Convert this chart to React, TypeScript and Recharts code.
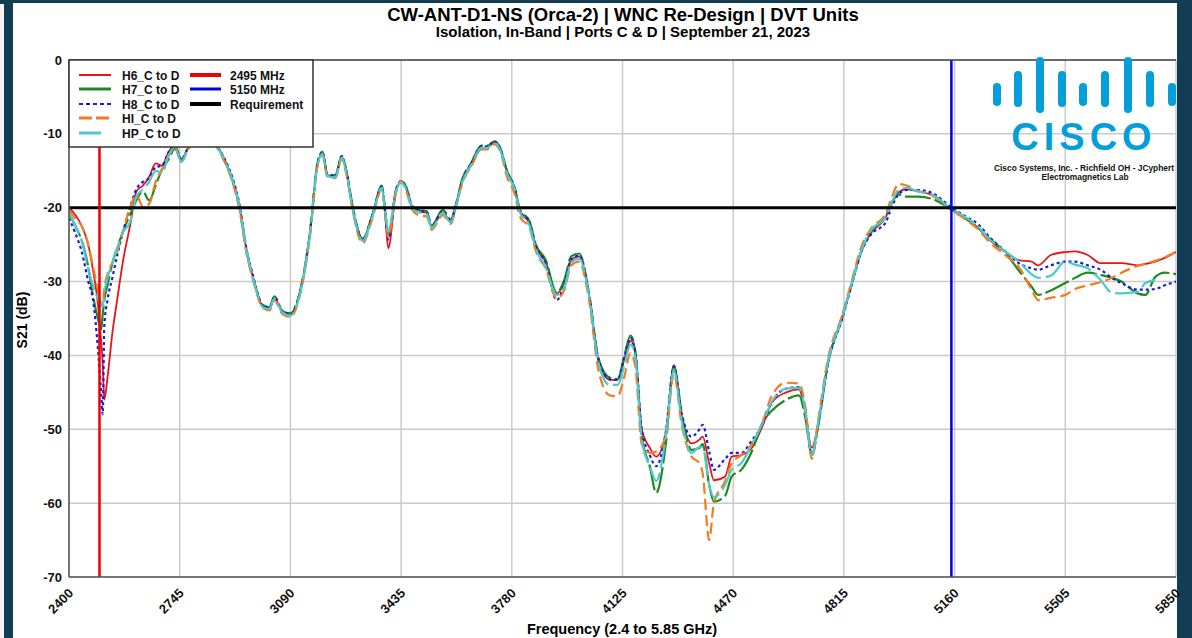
import React from 'react';
import { LineChart, Line, XAxis, YAxis, CartesianGrid, ReferenceLine } from 'recharts';

const FONT = '"Liberation Sans", Arial, Helvetica, sans-serif';

const freqs = [
  2400, 2420, 2440, 2460, 2475, 2490, 2500, 2505, 2510, 2520, 2535, 2550, 2570, 2590, 2610, 2630, 2650, 2670, 2690,
  2710, 2730, 2750, 2770,
  2820, 2870, 2885, 2910, 2930, 2955, 2970,
  3005, 3025, 3040, 3065, 3090, 3120, 3150,
  3175, 3190, 3205, 3230, 3250, 3265, 3285, 3315, 3345, 3375, 3385, 3395,
  3420, 3435, 3450, 3470, 3490, 3515, 3530, 3565, 3590, 3605, 3625, 3655,
  3685, 3705, 3725, 3745, 3765, 3790, 3805,
  3835, 3855, 3885, 3920, 3945, 3965, 3990, 4020,
  4050, 4085, 4110, 4130, 4150, 4165, 4185, 4210, 4230, 4260, 4285, 4310, 4340, 4365,
  4375, 4395, 4410, 4445, 4465, 4495, 4530, 4560, 4590,
  4635, 4675, 4695, 4715, 4735, 4765, 4810, 4840, 4870,
  4900, 4945, 4965, 4985, 5010, 5045, 5090, 5145, 5195, 5235, 5265,
  5320, 5360, 5400, 5420, 5460, 5505, 5535, 5575, 5615, 5650, 5680, 5730, 5755, 5785, 5815, 5850,
];

const h6 = [
  -20, -21, -22.5, -25, -28.5, -33, -38, -41, -46, -43, -37, -32.5, -26.8, -22.5, -17.8, -17, -15.8, -14, -14.3,
  -12.5, -11.5, -13.5, -12,
  -10, -12.2, -13.5, -16.2, -19.5, -26.1, -28.8,
  -33.4, -33.6, -32.2, -34.1, -34.5, -31.5, -23.9,
  -14, -12.6, -15.6, -15.8, -13.1, -15.3, -20.3, -24.4, -21.2, -17.2, -20.8, -25.5,
  -17.6, -16.5, -17.3, -20, -20.5, -20.7, -22.6, -20.6, -21.9, -19.9, -16.5, -14.2,
  -12, -11.9, -11.1, -12.2, -15.2, -17.6, -20.5,
  -22.1, -25.3, -27.3, -31.6, -30, -27.1, -26.6, -31.6,
  -40.6, -43.3, -43.3, -40.6, -38, -39.7, -50, -52.5, -53.7, -50.5, -41.3, -48.3, -51.9, -51.4,
  -51, -54.6, -56.9, -56.4, -53.7, -53.5, -52.4, -49.7, -46.4,
  -45, -44.6, -47.8, -52.5, -49.2, -41, -34.8, -30.2, -25.7,
  -23.4, -21.3, -19.4, -17.9, -17.5, -17.8, -18.3, -20, -21.5, -22.8, -24.2,
  -26, -27.1, -27.3, -27.8, -26.4, -26, -25.9, -26.4, -27.5, -27.5, -27.5, -27.8, -27.6, -27.3, -26.8, -26,
];

const h7 = [
  -20.7, -22.5, -24.5, -28, -32, -35, -36.5, -34.5, -32.5, -30.5, -27.5, -25.5, -23, -21, -19, -17.8, -19, -17, -14.8,
  -13.5, -12, -13.5, -12,
  -10, -12.3, -13.6, -16.4, -19.7, -26.3, -29,
  -33.2, -33.5, -32, -34, -34.3, -31.3, -23.7,
  -13.8, -12.4, -15.4, -15.6, -13, -15.1, -20, -24.2, -21, -17, -20.3, -23.5,
  -17.4, -16.4, -17.1, -19.8, -20.3, -20.5, -22.4, -20.3, -21.6, -19.7, -16.2, -13.8,
  -11.6, -11.6, -11, -12, -15, -17.4, -20.2,
  -21.8, -25, -27, -31.5, -29.6, -26.6, -26.2, -31.4,
  -40.4, -43, -43.2, -40.2, -37.3, -39.5, -51, -55, -58.6, -52, -41.4, -48, -52.8, -52.5,
  -52, -57.5, -59.8, -59, -56.4, -55.5, -52.8, -49.2, -47.5,
  -46, -45.4, -48.5, -53.5, -49.5, -41.2, -34.8, -30.2, -25.8,
  -23.2, -21.2, -19.2, -18.2, -18.5, -18.5, -18.8, -20.1, -21.5, -22.8, -24,
  -26.2, -28.5, -30.7, -31.8, -31.2, -30.2, -29.5, -28.8, -29.1, -29.5, -30, -31.6, -31.8, -29.4, -28.8, -29,
];

const h8 = [
  -21.4, -23.5, -26, -30, -32.5, -39, -45, -48, -36, -32.5, -29.5, -26.5, -23, -20, -17.5, -16.5, -16, -14.5, -14.3,
  -12.5, -11.5, -13.5, -12,
  -10, -12.2, -13.4, -16, -19.3, -26, -28.6,
  -33.3, -33.5, -32.1, -34, -34.4, -31.4, -23.8,
  -13.9, -12.5, -15.5, -15.7, -13, -15.2, -20.2, -24.3, -21.1, -17.1, -20.5, -24.3,
  -17.5, -16.4, -17.2, -19.9, -20.4, -20.6, -22.5, -20.5, -21.8, -19.8, -16.4, -13.9,
  -11.7, -11.7, -11, -12.1, -15.1, -17.5, -20.4,
  -22, -25.2, -27.4, -32.5, -30.1, -27, -26.5, -31.5,
  -40.5, -43.2, -43.3, -40.4, -37.6, -39.6, -50, -53.5, -55, -50.3, -41.5, -48, -51, -50,
  -49.4, -53, -55.5, -54, -53.2, -53.2, -51.4, -49.5, -46.4,
  -44.5, -44.3, -47.5, -53.5, -49.3, -41.2, -35, -30.4, -25.9,
  -23.6, -22, -19.8, -18.2, -17.6, -17.6, -18, -19.8, -21.2, -22.3, -23.8,
  -26, -27.5, -28.2, -28.4, -27.8, -27.3, -27.3, -27.8, -28.4, -29.5, -30.2, -31.1, -31.1, -31, -30.5, -30,
];

const hi = [
  -20.3, -21.5, -22.5, -25, -28, -31, -33, -33.4, -31, -29, -27.5, -26, -23, -20, -18.3, -19.8, -19.5, -16.5, -14.8,
  -13, -11.8, -13.8, -12.2,
  -10.2, -12.5, -13.8, -16.6, -20, -26.6, -29.2,
  -33.6, -33.9, -32.5, -34.4, -34.8, -31.8, -24.2,
  -14.3, -12.8, -15.8, -16, -13.4, -15.6, -20.6, -24.8, -21.5, -17.5, -20.6, -24,
  -17.8, -16.4, -17.6, -20.3, -21, -21.2, -23, -21, -22.2, -20.1, -16.8, -14.3,
  -12.1, -12.1, -11.4, -12.5, -15.8, -18.3, -21.2,
  -22.7, -25.9, -28.2, -32.3, -31, -27.8, -27.3, -32.3,
  -42, -45.4, -45.5, -43, -39.7, -41.5, -52, -53.2, -53, -51, -42.5, -49.5, -53.7, -54.6,
  -56, -65, -60, -57, -54.6, -53.5, -51.9, -49.2, -45.5,
  -43.7, -43.8, -47, -54, -48.7, -40.5, -34.5, -29.8, -25.2,
  -22.8, -20.8, -18.5, -16.8, -17, -17.7, -18.3, -20.2, -21.6, -23, -24.5,
  -26.5, -28, -31.1, -32.5, -32.2, -31.8, -31, -30.5, -30.1, -29.5, -28.8, -27.9, -27.6, -27.2, -26.7, -26,
];

const hp = [
  -20.6, -22.5, -24.5, -28.3, -30.6, -32.3, -33.2, -33.4, -31.5, -29.5, -27.5, -25.5, -23.2, -22, -18.5, -17.5, -16.5, -15, -15.3,
  -13, -11.8, -13.8, -12.2,
  -10.1, -12.3, -13.6, -16.3, -19.6, -26.2, -28.9,
  -33.5, -33.7, -32.3, -34.2, -34.6, -31.6, -24,
  -14.1, -12.7, -15.7, -15.9, -13.2, -15.4, -20.4, -24.5, -21.3, -17.3, -20.4, -23.2,
  -17.7, -16.6, -17.4, -20.1, -20.6, -20.8, -22.7, -20.7, -22, -20, -16.6, -14.1,
  -11.9, -11.9, -11.2, -12.3, -15.3, -17.7, -20.6,
  -22.4, -25.6, -28, -31.8, -30.6, -27.4, -26.9, -31.7,
  -41, -44, -44, -41.5, -38.5, -40.2, -51.5, -55, -57, -51, -42, -49, -53.2, -52.4,
  -52.4, -57.5, -59.2, -57.5, -55.5, -54.6, -51.9, -49.3, -46.3,
  -44.5, -44.4, -47.6, -53.5, -49, -41, -34.8, -30.2, -25.7,
  -23, -21.3, -19.2, -17.6, -17.3, -17.8, -18.2, -20, -21.3, -22.6, -24.1,
  -26, -27.3, -29, -29.5, -29.2, -27.3, -27.7, -28.2, -29.8, -31.5, -31.6, -31.4, -30.2, -29.8, null, null,
];

const xTicks = [2400, 2745, 3090, 3435, 3780, 4125, 4470, 4815, 5160, 5505, 5850];
const yTicks = [-70, -60, -50, -40, -30, -20, -10, 0];
const requirementDb = -20;
const markerLowMHz = 2495;
const markerHighMHz = 5150;

const seriesNames = ['H6_C to D', 'H7_C to D', 'H8_C to D', 'HI_C to D', 'HP_C to D'];
const markerNames = ['2495 MHz', '5150 MHz', 'Requirement'];

const data = freqs.map((f, i) => ({
  f,
  h6: h6[i],
  h7: h7[i],
  h8: h8[i],
  hi: hi[i],
  hp: hp[i],
}));

const COLORS = {
  h6: '#e8141a',
  h7: '#1e8a1e',
  h8: '#1a1adc',
  hi: '#f47b20',
  hp: '#4ccaca',
};

const XTick = (props: any) => {
  const { x, y, payload } = props;
  const ax = x + 5;
  const ay = y + 17;
  return (
    <text
      x={ax}
      y={ay}
      transform={`rotate(-45, ${ax}, ${ay})`}
      textAnchor="end"
      fontSize={13}
      fontWeight="bold"
      fill="#111"
      fontFamily={FONT}
    >
      {payload.value}
    </text>
  );
};

const YTick = (props: any) => {
  const { x, y, payload } = props;
  return (
    <text x={x} y={y} dy={4.5} textAnchor="end" fontSize={13} fontWeight="bold" fill="#111" fontFamily={FONT}>
      {payload.value}
    </text>
  );
};

const legendRows = [
  { name: seriesNames[0], color: COLORS.h6, width: 2, dash: undefined as string | undefined, x2: 42 },
  { name: seriesNames[1], color: COLORS.h7, width: 3, dash: undefined, x2: 42 },
  { name: seriesNames[2], color: COLORS.h8, width: 2, dash: '4 3', x2: 42 },
  { name: seriesNames[3], color: COLORS.hi, width: 3, dash: '13 4', x2: 42 },
  { name: seriesNames[4], color: COLORS.hp, width: 3, dash: undefined, x2: 32 },
];

const legendRight = [
  { name: markerNames[0], color: '#ee0000', width: 4 },
  { name: markerNames[1], color: '#0000dd', width: 3 },
  { name: markerNames[2], color: '#000000', width: 4 },
];

const rowY = [15, 29, 44, 58, 73];

const ciscoBars = [
  { x: 997, h: 15, c: 94.5 },
  { x: 1018, h: 28, c: 89 },
  { x: 1040, h: 48, c: 85 },
  { x: 1062, h: 28, c: 89 },
  { x: 1083, h: 15, c: 94.5 },
  { x: 1105, h: 28, c: 89 },
  { x: 1128, h: 48, c: 85 },
  { x: 1150, h: 28, c: 89 },
  { x: 1172, h: 15, c: 94.5 },
];

export default function App() {
  const dark = '#133d54';
  return (
    <div style={{ position: 'fixed', left: 0, top: 0, width: 1192, height: 638, background: dark, overflow: 'hidden' }}>
      <div style={{ position: 'absolute', left: 0, top: 4, width: 4, height: 634, background: '#f4f4f4' }} />
      <div style={{ position: 'absolute', left: 13, top: 3, width: 1164, height: 635, background: '#ffffff' }} />
      <div style={{ position: 'absolute', left: 0, top: 0 }}>
        <LineChart width={1192} height={638} data={data} margin={{ top: 60, right: 16, bottom: 11, left: 19 }}>
          <CartesianGrid stroke="#cacaca" strokeWidth={1.5} />
          <XAxis
            dataKey="f"
            type="number"
            domain={[2400, 5850]}
            ticks={xTicks}
            interval={0}
            allowDataOverflow
            height={50}
            tickSize={0}
            tickMargin={0}
            tick={<XTick />}
            axisLine={{ stroke: '#555', strokeWidth: 1.5 }}
            tickLine={false}
          />
          <YAxis
            type="number"
            domain={[-70, 0]}
            ticks={yTicks}
            interval={0}
            allowDataOverflow
            width={50}
            tickSize={0}
            tickMargin={7}
            tick={<YTick />}
            axisLine={{ stroke: '#555', strokeWidth: 1.5 }}
            tickLine={false}
          />
          <Line type="monotone" dataKey="h6" stroke={COLORS.h6} strokeWidth={1.8} dot={false} isAnimationActive={false} />
          <Line type="monotone" dataKey="h7" stroke={COLORS.h7} strokeWidth={2.2} strokeDasharray="26 4" dot={false} isAnimationActive={false} />
          <Line type="monotone" dataKey="h8" stroke={COLORS.h8} strokeWidth={2.2} strokeDasharray="3 3" dot={false} isAnimationActive={false} />
          <Line type="monotone" dataKey="hi" stroke={COLORS.hi} strokeWidth={2.2} strokeDasharray="11 5" dot={false} isAnimationActive={false} />
          <Line type="monotone" dataKey="hp" stroke={COLORS.hp} strokeWidth={2.2} strokeDasharray="24 5" dot={false} isAnimationActive={false} />
          <ReferenceLine y={requirementDb} stroke="#000" strokeWidth={3} />
          <ReferenceLine x={markerLowMHz} stroke="#ee0000" strokeWidth={2.5} />
          <ReferenceLine x={markerHighMHz} stroke="#0000dd" strokeWidth={2.5} />
          <ReferenceLine y={0} stroke="#444" strokeWidth={1.5} />
        </LineChart>
      </div>
      <svg
        width={1192}
        height={638}
        style={{ position: 'absolute', left: 0, top: 0, pointerEvents: 'none' }}
        fontFamily={FONT}
      >
        <text x={623} y={21} textAnchor="middle" fontSize={18.5} fontWeight="bold" fill="#000">
          CW-ANT-D1-NS (Orca-2) | WNC Re-Design | DVT Units
        </text>
        <text x={623} y={37} textAnchor="middle" fontSize={15} fontWeight="bold" fill="#000">
          Isolation, In-Band | Ports C &amp; D | September 21, 2023
        </text>
        <text
          x={22}
          y={320}
          transform="rotate(-90, 22, 320)"
          textAnchor="middle"
          dy={5}
          fontSize={14}
          fontWeight="bold"
          fill="#000"
        >
          S21 (dB)
        </text>
        <text x={622} y={634} textAnchor="middle" fontSize={14.5} fontWeight="bold" fill="#000">
          Frequency (2.4 to 5.85 GHz)
        </text>

        <g transform="translate(69, 60)">
          <rect x={0} y={0} width={244} height={87} fill="#fff" stroke="#333" strokeWidth={1.5} />
          {legendRows.map((r, i) => (
            <g key={r.name}>
              <line x1={10} x2={r.x2} y1={rowY[i]} y2={rowY[i]} stroke={r.color} strokeWidth={r.width} strokeDasharray={r.dash} />
              <text x={53} y={rowY[i]} dy={4.5} fontSize={12} fontWeight="bold" fill="#111">
                {r.name}
              </text>
            </g>
          ))}
          {legendRight.map((r, i) => (
            <g key={r.name}>
              <line x1={121} x2={152} y1={rowY[i]} y2={rowY[i]} stroke={r.color} strokeWidth={r.width} />
              <text x={161} y={rowY[i]} dy={4.5} fontSize={12} fontWeight="bold" fill="#111">
                {r.name}
              </text>
            </g>
          ))}
        </g>

        <g>
          {ciscoBars.map((b, i) => (
            <line
              key={i}
              x1={b.x}
              x2={b.x}
              y1={b.c - b.h / 2}
              y2={b.c + b.h / 2}
              stroke="#049fd9"
              strokeWidth={8}
              strokeLinecap="round"
            />
          ))}
          <text x={1084} y={150} textAnchor="middle" fontSize={38} fontWeight="bold" fill="#049fd9" letterSpacing={5}>
            CISCO
          </text>
          <text x={1084} y={171} textAnchor="middle" fontSize={8.4} fontWeight="bold" fill="#111">
            Cisco Systems, Inc. - Richfield OH - JCyphert
          </text>
          <text x={1085} y={180} textAnchor="middle" fontSize={8.4} fontWeight="bold" fill="#111">
            Electromagnetics Lab
          </text>
        </g>
      </svg>
    </div>
  );
}
